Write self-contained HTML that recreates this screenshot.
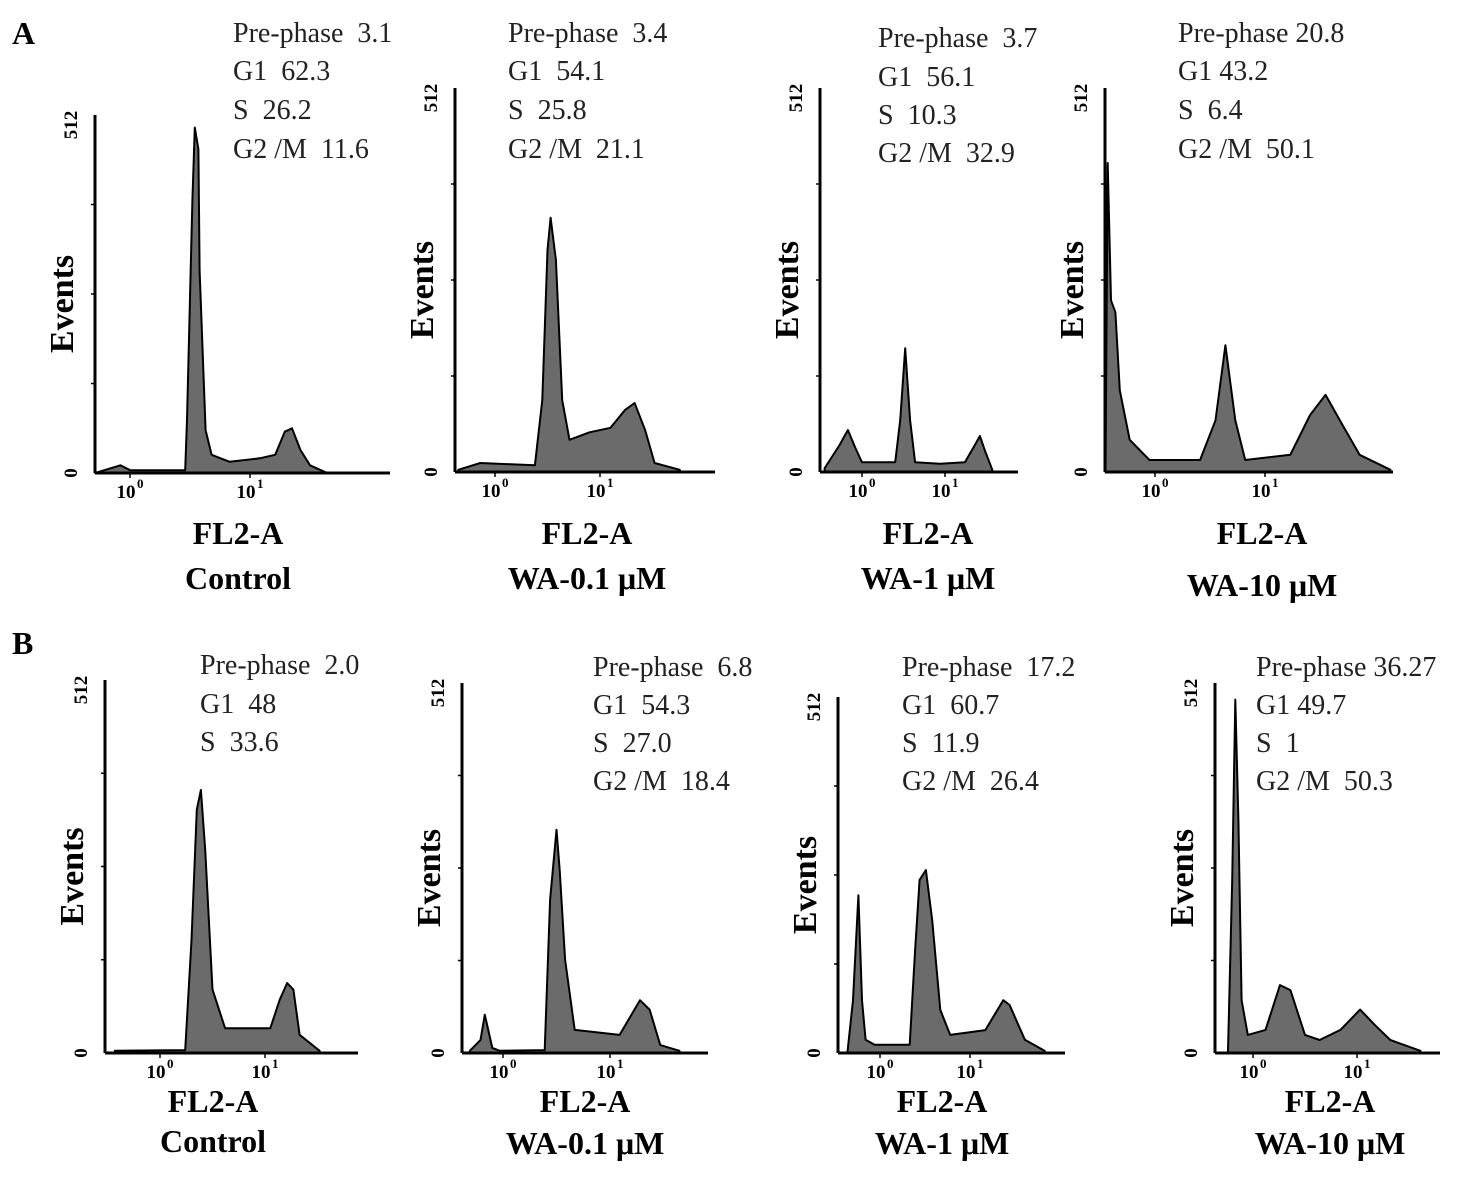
<!DOCTYPE html>
<html><head><meta charset="utf-8"><style>
html,body{margin:0;padding:0;background:#fff;}
svg{display:block;font-family:"Liberation Serif",serif;}
.stat{font-size:28px;fill:#222;white-space:pre;}
.lab{font-size:32px;font-weight:bold;}
.tick{font-size:19px;font-weight:bold;}
.ev{font-size:34px;font-weight:bold;}
</style></head><body>
<svg id="fig" width="1480" height="1182" viewBox="0 0 1480 1182" xmlns="http://www.w3.org/2000/svg">
<text x="12" y="44" class="lab">A</text>
<text x="12" y="654" class="lab">B</text>
</svg>
<script>
// Data arrays: x in log decades (0 = 10^0, 1 = 10^1), counts 0-512
const a1X=[-0.29,-0.08,0,0.46,0.475,0.52,0.54,0.57,0.58,0.63,0.68,0.83,1.08,1.21,1.29,1.35,1.42,1.5,1.63];
const a1Counts=[0,11,4,4,76,390,494,463,290,61,26,16,21,26,59,64,33,11,1];
const a2X=[-0.35,-0.14,0.38,0.45,0.5,0.53,0.58,0.64,0.71,0.9,1.1,1.24,1.33,1.43,1.52,1.76];
const a2Counts=[3,12,9,96,296,339,283,96,43,53,59,83,92,56,12,3];
const a3X=[-0.45,-0.27,-0.17,-0.08,0,0.4,0.46,0.52,0.58,0.64,0.94,1.24,1.36,1.42,1.48,1.57];
const a3Counts=[5,36,56,32,13,13,69,165,69,13,11,13,36,48,29,3];
const a4X=[-0.45,-0.43,-0.4,-0.36,-0.32,-0.23,-0.05,0.41,0.55,0.64,0.73,0.82,1.23,1.41,1.55,1.68,1.86,2.14];
const a4Counts=[0,412,229,213,109,43,16,16,69,169,69,16,23,76,103,69,23,3];
const b1X=[-0.43,0.24,0.3,0.35,0.39,0.43,0.5,0.62,1.05,1.14,1.21,1.27,1.33,1.52];
const b1Counts=[3,4,155,334,361,279,87,34,34,73,96,87,25,3];
const b2X=[-0.31,-0.21,-0.17,-0.1,-0.03,0.39,0.44,0.5,0.53,0.58,0.67,1.09,1.28,1.37,1.47,1.65];
const b2Counts=[3,18,53,7,3,4,212,309,253,129,32,25,73,60,11,3];
const b3X=[-0.36,-0.3,-0.24,-0.2,-0.16,-0.06,0.33,0.39,0.44,0.51,0.58,0.67,0.78,1.17,1.37,1.44,1.61,1.83];
const b3Counts=[3,76,227,76,19,12,12,148,249,263,191,62,26,33,76,69,19,3];
const b4X=[-0.24,-0.2,-0.17,-0.14,-0.11,-0.05,0.12,0.26,0.36,0.5,0.64,0.84,1.03,1.17,1.32,1.61];
const b4Counts=[3,239,489,323,73,25,32,94,87,25,18,32,60,39,18,3];

const yMax=512;
const panels=[
 {id:'a1',ax:95,top:115,bot:473,xEnd:390,t0:130,dt:120,x:a1X,c:a1Counts,lx:238,ly:533,cond:'Control',sx:233,sy:[33,71,110,149],stats:['Pre-phase  3.1','G1  62.3','S  26.2','G2 /M  11.6']},
 {id:'a2',ax:455,top:88,bot:472,xEnd:715,t0:495,dt:105,x:a2X,c:a2Counts,lx:587,ly:533,cond:'WA-0.1 μM',sx:508,sy:[33,71,110,149],stats:['Pre-phase  3.4','G1  54.1','S  25.8','G2 /M  21.1']},
 {id:'a3',ax:820,top:88,bot:472,xEnd:1018,t0:862,dt:83,x:a3X,c:a3Counts,lx:928,ly:533,cond:'WA-1 μM',sx:878,sy:[38,77,115,153],stats:['Pre-phase  3.7','G1  56.1','S  10.3','G2 /M  32.9']},
 {id:'a4',ax:1105,top:88,bot:472,xEnd:1393,t0:1155,dt:110,x:a4X,c:a4Counts,lx:1262,ly:533,cond:'WA-10 μM',sx:1178,sy:[33,71,110,149],stats:['Pre-phase 20.8','G1 43.2','S  6.4','G2 /M  50.1'],condY:585},
 {id:'b1',ax:105,top:680,bot:1053,xEnd:358,t0:160,dt:105,x:b1X,c:b1Counts,lx:213,ly:1101,cond:'Control',sx:200,sy:[665,704,742],stats:['Pre-phase  2.0','G1  48','S  33.6'],condY:1141},
 {id:'b2',ax:462,top:683,bot:1053,xEnd:708,t0:503,dt:107,x:b2X,c:b2Counts,lx:585,ly:1101,cond:'WA-0.1 μM',sx:593,sy:[667,705,743,781],stats:['Pre-phase  6.8','G1  54.3','S  27.0','G2 /M  18.4'],condY:1143},
 {id:'b3',ax:838,top:697,bot:1053,xEnd:1065,t0:880,dt:90,x:b3X,c:b3Counts,lx:942,ly:1101,cond:'WA-1 μM',sx:902,sy:[667,705,743,781],stats:['Pre-phase  17.2','G1  60.7','S  11.9','G2 /M  26.4'],condY:1143},
 {id:'b4',ax:1215,top:683,bot:1053,xEnd:1440,t0:1253,dt:104,x:b4X,c:b4Counts,lx:1330,ly:1101,cond:'WA-10 μM',sx:1256,sy:[667,705,743,781],stats:['Pre-phase 36.27','G1 49.7','S  1','G2 /M  50.3'],condY:1143}
];
const NS='http://www.w3.org/2000/svg';
const svg=document.getElementById('fig');
function mk(tag,attrs,parent){const e=document.createElementNS(NS,tag);for(const k in attrs)e.setAttribute(k,attrs[k]);(parent||svg).appendChild(e);return e;}
panels.forEach(p=>{
 const g=mk('g',{});
 
 
 const xS=v=>p.t0+v*p.dt;
 const yS=v=>p.bot-v/yMax*(p.bot-p.top);
 let d='M'+xS(p.x[0])+','+p.bot;
 p.x.forEach((v,i)=>{d+=' L'+xS(v).toFixed(1)+','+yS(p.c[i]).toFixed(1);});
 d+=' L'+xS(p.x[p.x.length-1])+','+p.bot+' Z';
 const h=mk('path',{d:d,fill:'#6b6b6b',stroke:'#000','stroke-width':2,'stroke-linejoin':'round'},g);
 
 
 const ya=mk('line',{x1:p.ax,y1:p.top,x2:p.ax,y2:p.bot,stroke:'#000','stroke-width':3},g);
 
 
 const xa=mk('line',{x1:p.ax,y1:p.bot,x2:p.xEnd,y2:p.bot,stroke:'#000','stroke-width':3},g);
 
 
 for(let k=1;k<4;k++){mk('line',{x1:p.ax-4,y1:yS(yMax*k/4),x2:p.ax,y2:yS(yMax*k/4),stroke:'#000','stroke-width':1.5},g);}
 [[0,'512'],[1,'0']].forEach(([i,t])=>{
  const y=i?p.bot:p.top+10;
  const tx=mk('text',{x:0,y:0,class:'tick','text-anchor':'middle',transform:`translate(${p.ax-18},${y}) rotate(-90)`},g);
  tx.textContent=t;
  
  
 });
 const ev=mk('text',{x:0,y:0,class:'ev','text-anchor':'middle',transform:`translate(${p.ax-22},${(p.top+p.bot)/2+10}) rotate(-90)`},g);
 ev.textContent='Events';
 
 
 [0,1].forEach(k=>{
  const tx=mk('text',{x:xS(k)-4,y:p.bot+25,class:'tick','text-anchor':'middle'},g);
  tx.textContent='10';
  
  
  const sup=mk('text',{x:xS(k)+7,y:p.bot+15,'font-size':'13','font-weight':'bold'},g);
  sup.textContent=String(k);
  mk('line',{x1:xS(k),y1:p.bot,x2:xS(k),y2:p.bot+5,stroke:'#000','stroke-width':1.5},g);
 });
 const fl=mk('text',{x:p.lx,y:p.ly+11,class:'lab','text-anchor':'middle'},g);
 fl.textContent='FL2-A';
 
 
 const cd=mk('text',{x:p.lx,y:(p.condY||578)+11,class:'lab','text-anchor':'middle'},g);
 cd.textContent=p.cond;
 
 
 p.stats.forEach((s,i)=>{
  const st=mk('text',{x:p.sx,y:p.sy[i]+9,class:'stat'},g);
  st.textContent=s;
  
  
 });
});
</script>
</body></html>
